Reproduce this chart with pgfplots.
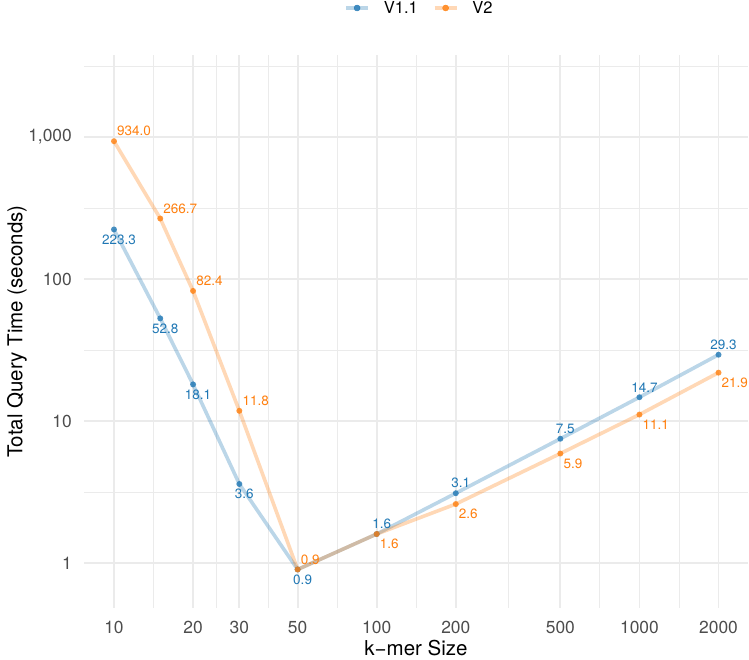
\documentclass[border=0pt]{standalone}
\usepackage{pgfplots}
\pgfplotsset{compat=1.18}
\usepackage{pgfplotstable}
\usepackage{fontspec}
\setmainfont{TeX Gyre Heros}
\definecolor{c1}{HTML}{1F77B4}
\definecolor{c2}{HTML}{FF7F0E}
\definecolor{gridc}{HTML}{EBEBEB}
\definecolor{tickc}{HTML}{4D4D4D}

\pgfplotstableread{
k t lab
10 223.3 223.3
15 52.8 52.8
20 18.1 18.1
30 3.6 3.6
50 0.9 0.9
100 1.6 1.6
200 3.1 3.1
500 7.5 7.5
1000 14.7 14.7
2000 29.3 29.3
}\vone

\pgfplotstableread{
k t lab
10 934.0 934.0
15 266.7 266.7
20 82.4 82.4
30 11.8 11.8
50 0.9 0.9
100 1.6 1.6
200 2.6 2.6
500 5.9 5.9
1000 11.1 11.1
2000 21.9 21.9
}\vtwo

\pgfplotsset{
  lab1/.style={draw=none, mark=none, forget plot, nodes near coords,
    point meta=explicit symbolic,
    every node near coord/.append style={anchor=#1, text=c1,
      font=\fontsize{13.5}{15}\selectfont, inner xsep=0pt, inner ysep=5pt, xshift=5pt}},
  lab2/.style={draw=none, mark=none, forget plot, nodes near coords,
    point meta=explicit symbolic,
    every node near coord/.append style={anchor=#1, text=c2,
      font=\fontsize{13.5}{15}\selectfont, inner xsep=3pt, inner ysep=5pt}},
}

\begin{document}
\begin{tikzpicture}
\useasboundingbox (0pt,0pt) rectangle (749pt,660pt);
\begin{axis}[
  at={(84pt,52pt)}, anchor=south west,
  width=664pt, height=553pt, scale only axis,
  xmode=log, ymode=log,
  xmin=7.69, xmax=2590, ymin=0.482, ymax=3780,
  xtick={10,20,30,50,100,200,500,1000,2000},
  xticklabels={10,20,30,50,100,200,500,1000,2000},
  ytick={1,10,100,1000},
  yticklabels={1,10,100,{1,000}},
  minor xtick={14.142,24.495,38.730,70.711,141.42,316.23,707.11,1414.2},
  minor ytick={3.1623,31.623,316.23,3162.3},
  grid=both,
  major grid style={draw=gridc, line width=1.8pt},
  minor grid style={draw=gridc, line width=0.9pt},
  axis line style={draw=none},
  major tick length=0pt, minor tick length=0pt,
  tick style={draw=none},
  /pgf/number format/assume math mode=true,
  ticklabel style={font=\fontsize{17.4}{19}\selectfont, text=tickc, inner sep=0pt},
  xticklabel style={anchor=north, yshift=-13pt},
  yticklabel style={anchor=east, xshift=-12pt},
  xlabel={k−mer Size},
  ylabel={Total Query Time (seconds)},
  label style={font=\fontsize{20.5}{24}\selectfont, text=black},
  xlabel style={at={(axis description cs:0.5,-0.085)}, anchor=base},
  ylabel style={at={(axis description cs:-0.1009,0.5)}, anchor=center},
  clip=false,
  legend columns=2,
  legend style={at={(axis description cs:0.5037,1.085)}, anchor=center,
    draw=none, fill=none, inner sep=0pt,
    font=\fontsize{16.5}{18}\selectfont,
    nodes={inner sep=0pt},
    /tikz/every odd column/.append style={column sep=14pt},
    /tikz/every even column/.append style={column sep=15pt}},
  legend cell align=left,
]
\addlegendimage{legend image code/.code={
  \draw[c1, opacity=0.3, line width=3.6pt] (0pt,0pt)--(22pt,0pt);
  \fill[c1, fill opacity=0.8] (11pt,0pt) circle (3pt);}}
\addlegendentry{V1.1}
\addlegendimage{legend image code/.code={
  \draw[c2, opacity=0.3, line width=3.6pt] (0pt,0pt)--(22pt,0pt);
  \fill[c2, fill opacity=0.8] (11pt,0pt) circle (3pt);}}
\addlegendentry{V2}

\addplot[c1, opacity=0.3, line width=3.6pt, line join=round, mark=none, forget plot]
  table[x=k,y=t]{\vone};
\addplot[c2, opacity=0.3, line width=3.6pt, line join=round, mark=none, forget plot]
  table[x=k,y=t]{\vtwo};
\addplot[c1, only marks, mark=*, mark size=3pt, mark options={draw=c1, fill=c1, draw opacity=0, fill opacity=0.8}, forget plot]
  table[x=k,y=t]{\vone};
\addplot[c2, only marks, mark=*, mark size=3pt, mark options={draw=c2, fill=c2, draw opacity=0, fill opacity=0.8}, forget plot]
  table[x=k,y=t]{\vtwo};

\addplot[lab1=north, skip coords between index={5}{10}] table[x=k,y=t,meta=lab]{\vone};
\addplot[lab1=south, skip coords between index={0}{5}] table[x=k,y=t,meta=lab]{\vone};
\addplot[lab2=south west, skip coords between index={5}{10}] table[x=k,y=t,meta=lab]{\vtwo};
\addplot[lab2=north west, skip coords between index={0}{5}] table[x=k,y=t,meta=lab]{\vtwo};
\end{axis}
\end{tikzpicture}
\end{document}
